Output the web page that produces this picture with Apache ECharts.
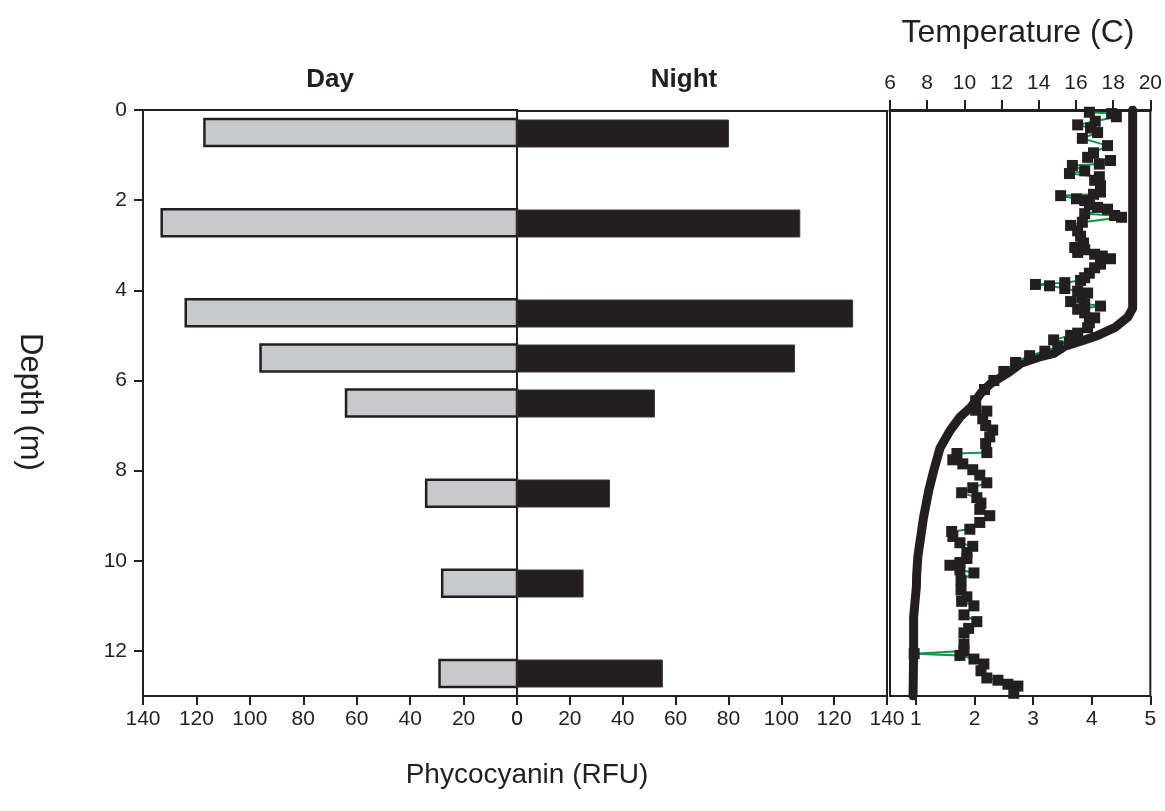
<!DOCTYPE html>
<html><head><meta charset="utf-8">
<script src="https://cdn.jsdelivr.net/npm/echarts@6/dist/echarts.min.js"></script>
<style>html,body{margin:0;padding:0;background:#fff}#c{width:1165px;height:811px}</style>
</head><body><div id="c"></div>
<script>
// ---- data ----
const barDepths = [0.5, 2.5, 4.5, 5.5, 6.5, 8.5, 10.5, 12.5];
const dayPC = [117, 133, 124, 96, 64, 34, 28, 29];
const nightPC = [80, 107, 127, 105, 52, 35, 25, 55];

const tempDepth = [0, 4.4, 4.6, 4.83, 5.0, 5.13, 5.24, 5.4, 5.47, 5.62, 5.84, 6.07, 6.29, 6.6, 6.8, 7.1, 7.5, 8.0, 8.45, 9.05, 9.9, 10.34, 10.57, 11.25, 12.0, 13.0];
const tempC = [19.05, 19.05, 18.78, 18.08, 17.17, 16.26, 15.4, 14.81, 14.11, 13.04, 12.31, 11.41, 10.87, 10.33, 9.79, 9.25, 8.69, 8.35, 8.08, 7.8, 7.5, 7.43, 7.42, 7.27, 7.27, 7.24];

const profDepth = [0.05, 0.08, 0.15, 0.25, 0.33, 0.4, 0.5, 0.63, 0.79, 0.95, 1.05, 1.12, 1.2, 1.23, 1.35, 1.41, 1.48, 1.56, 1.68, 1.82, 1.87, 1.9, 1.97, 2.01, 2.1, 2.16, 2.2, 2.3, 2.34, 2.38, 2.49, 2.56, 2.68, 2.8, 2.95, 3.05, 3.1, 3.16, 3.2, 3.24, 3.3, 3.42, 3.5, 3.62, 3.72, 3.78, 3.83, 3.87, 3.9, 3.96, 4.02, 4.06, 4.15, 4.25, 4.3, 4.35, 4.42, 4.5, 4.61, 4.72, 4.83, 4.95, 5.0, 5.1, 5.15, 5.25, 5.35, 5.45, 5.6, 5.8, 6.0, 6.2, 6.45, 6.66, 6.68, 6.85, 7.0, 7.1, 7.25, 7.4, 7.6, 7.62, 7.76, 7.85, 7.98, 8.1, 8.27, 8.38, 8.49, 8.6, 8.72, 8.86, 9.0, 9.15, 9.3, 9.35, 9.46, 9.6, 9.68, 9.82, 9.95, 10.04, 10.1, 10.2, 10.27, 10.43, 10.65, 10.8, 10.9, 11.0, 11.2, 11.35, 11.5, 11.6, 11.85, 12.0, 12.06, 12.1, 12.18, 12.29, 12.44, 12.6, 12.65, 12.74, 12.78, 12.94, 13.05];
const profPC = [3.96, 4.34, 4.42, 4.06, 3.76, 3.98, 4.10, 3.84, 4.27, 4.03, 3.93, 4.32, 4.13, 3.67, 3.88, 3.62, 4.13, 4.05, 4.15, 4.15, 4.03, 3.47, 3.74, 3.88, 3.96, 4.10, 4.27, 3.88, 4.39, 4.51, 3.84, 3.64, 3.76, 3.81, 3.86, 3.71, 3.88, 3.76, 4.05, 4.18, 4.32, 4.15, 4.05, 3.96, 3.88, 3.81, 3.54, 3.04, 3.28, 3.54, 3.76, 3.93, 3.83, 3.64, 3.88, 4.15, 3.76, 3.88, 4.05, 3.96, 3.93, 3.76, 3.64, 3.35, 3.62, 3.42, 3.20, 2.94, 2.70, 2.50, 2.33, 2.17, 2.02, 2.02, 2.21, 2.14, 2.19, 2.31, 2.26, 2.19, 2.21, 1.70, 1.63, 1.80, 1.97, 2.09, 2.21, 1.97, 1.78, 2.04, 2.11, 2.09, 2.26, 2.09, 1.92, 1.61, 1.63, 1.75, 1.97, 1.87, 1.87, 1.75, 1.58, 1.75, 1.99, 1.77, 1.77, 1.87, 1.78, 1.99, 1.82, 2.04, 1.90, 1.82, 1.82, 1.82, 0.97, 1.75, 1.99, 2.16, 2.11, 2.21, 2.40, 2.57, 2.74, 2.67, 2.77];

const depthTicks = [0, 2, 4, 6, 8, 10, 12];
const sondeTicks = [1, 2, 3, 4, 5];

// ---- chart ----
const INK = '#231f20';
const FONT = 'Liberation Sans, Arial, sans-serif';
const chart = echarts.init(document.getElementById('c'), null, {renderer: 'canvas'});

function barRenderer(fill, stroke, lw) {
  return function (params, api) {
    const v = api.value(0), d = api.value(1);
    const p0 = api.coord([0, d]);
    const p1 = api.coord([v, d]);
    const h = api.size([0, 0.6])[1];
    return {
      type: 'rect',
      shape: {x: Math.min(p0[0], p1[0]), y: p0[1] - h / 2, width: Math.abs(p1[0] - p0[0]), height: h},
      style: {fill: fill, stroke: stroke, lineWidth: lw}
    };
  };
}

const axisLine = {show: true, onZero: false, lineStyle: {color: INK, width: 2}};
const lbl = {color: INK, fontSize: 21, fontFamily: FONT};

function bottomPcAxis(grid, inverse) {
  return {
    type: 'value', gridIndex: grid, position: 'bottom', inverse: inverse,
    min: 0, max: 140, interval: 20,
    axisLine: axisLine,
    axisTick: {show: true, length: 9, inside: false, lineStyle: {color: INK, width: 2}},
    axisLabel: Object.assign({margin: 13, showMinLabel: true, showMaxLabel: true}, lbl),
    splitLine: {show: false}
  };
}

const option = {
  backgroundColor: '#ffffff',
  animation: false,
  grid: [
    {left: 143, top: 110, width: 374, height: 586, show: true, borderColor: INK, borderWidth: 2, backgroundColor: 'transparent'},
    {left: 517, top: 111, width: 370, height: 585, show: true, borderColor: INK, borderWidth: 2, backgroundColor: 'transparent'},
    {left: 890, top: 110, width: 261, height: 586, show: true, borderColor: INK, borderWidth: 2, backgroundColor: 'transparent'}
  ],
  xAxis: [
    bottomPcAxis(0, true),
    bottomPcAxis(1, false),
    {
      type: 'value', gridIndex: 2, position: 'bottom', min: 0.5575, max: 5,
      axisLine: axisLine,
      axisTick: {show: true, length: 9, customValues: sondeTicks, lineStyle: {color: INK, width: 2}},
      axisLabel: Object.assign({margin: 13, customValues: sondeTicks}, lbl),
      splitLine: {show: false}
    },
    {
      type: 'value', gridIndex: 2, position: 'top', min: 6, max: 20, interval: 2,
      axisLine: {show: true, onZero: false, lineStyle: {color: INK, width: 3}},
      axisTick: {show: true, length: 10, lineStyle: {color: INK, width: 2}},
      axisLabel: Object.assign({margin: 16, showMinLabel: true, showMaxLabel: true}, lbl),
      splitLine: {show: false}
    }
  ],
  yAxis: [
    {
      type: 'value', gridIndex: 0, inverse: true, min: 0, max: 13, interval: 2,
      axisLine: axisLine,
      axisTick: {show: true, length: 9, lineStyle: {color: INK, width: 2}},
      axisLabel: Object.assign({margin: 16, showMaxLabel: false,
        formatter: function (v) { return depthTicks.indexOf(v) >= 0 ? String(v) : ''; }}, lbl),
      splitLine: {show: false}
    },
    {type: 'value', gridIndex: 1, inverse: true, min: 0, max: 13, show: false,
      axisLine: {show: false, onZero: false}, axisTick: {show: false}, axisLabel: {show: false}, splitLine: {show: false}},
    {type: 'value', gridIndex: 2, inverse: true, min: 0, max: 13, show: false,
      axisLine: {show: false, onZero: false}, axisTick: {show: false}, axisLabel: {show: false}, splitLine: {show: false}}
  ],
  series: [
    {
      type: 'custom', name: 'Day', xAxisIndex: 0, yAxisIndex: 0,
      renderItem: barRenderer('#c8c9cc', INK, 2.5),
      encode: {x: 0, y: 1},
      data: barDepths.map((d, i) => [dayPC[i], d]), z: 2
    },
    {
      type: 'custom', name: 'Night', xAxisIndex: 1, yAxisIndex: 1,
      renderItem: barRenderer(INK, '#3a3637', 1),
      encode: {x: 0, y: 1},
      data: barDepths.map((d, i) => [nightPC[i], d]), z: 2
    },
    {
      type: 'line', name: 'Temperature', xAxisIndex: 3, yAxisIndex: 2,
      showSymbol: false, symbol: 'none', smooth: false,
      lineStyle: {color: INK, width: 9, join: 'round', cap: 'round'},
      data: tempDepth.map((d, i) => [tempC[i], d]), z: 3
    },
    {
      type: 'line', name: 'Profile', xAxisIndex: 2, yAxisIndex: 2,
      symbol: 'rect', symbolSize: 11, showSymbol: true,
      itemStyle: {color: INK},
      lineStyle: {color: '#0d9548', width: 2},
      data: profDepth.map((d, i) => [profPC[i], d]), z: 4
    }
  ],
  graphic: [
    {type: 'text', style: {text: 'Day', x: 330, y: 80, align: 'center', verticalAlign: 'middle', font: 'bold 26px ' + FONT, fill: INK}},
    {type: 'text', style: {text: 'Night', x: 684, y: 80, align: 'center', verticalAlign: 'middle', font: 'bold 26px ' + FONT, fill: INK}},
    {type: 'text', style: {text: 'Temperature (C)', x: 1018, y: 33, align: 'center', verticalAlign: 'middle', font: '32px ' + FONT, fill: INK}},
    {type: 'text', style: {text: 'Phycocyanin (RFU)', x: 527, y: 775, align: 'center', verticalAlign: 'middle', font: '28px ' + FONT, fill: INK}},
    {type: 'text', x: 30, y: 402, rotation: -Math.PI / 2, style: {text: 'Depth (m)', x: 0, y: 0, align: 'center', verticalAlign: 'middle', font: '31px ' + FONT, fill: INK}}
  ]
};
chart.setOption(option);
</script>
</body></html>
